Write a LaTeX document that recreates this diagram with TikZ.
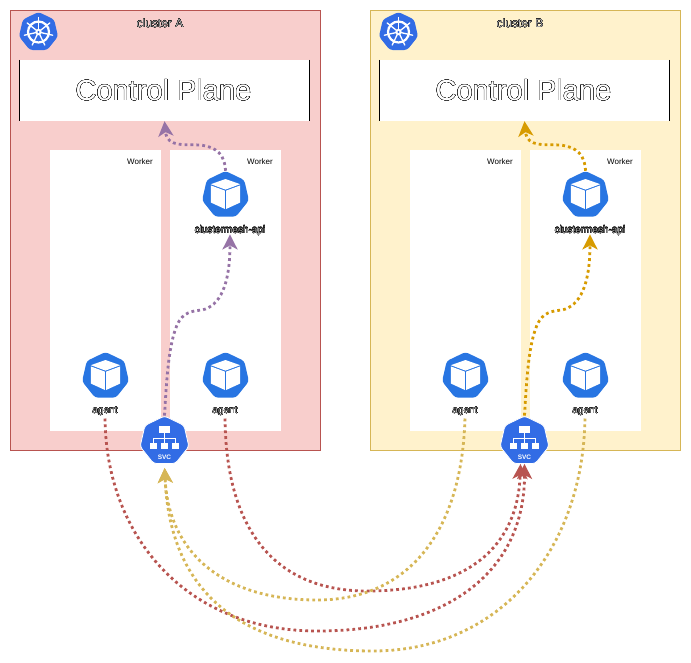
\documentclass[tikz,border=0pt]{standalone}
\usepackage{fontspec}
\setmainfont{Liberation Sans}
\usepackage{contour}
\usetikzlibrary{shapes.geometric,arrows.meta}
\contournumber{16}
\definecolor{kubeblue}{HTML}{326CE5}
\definecolor{podblue}{HTML}{2875E2}
\definecolor{redfill}{HTML}{F8CECC}
\definecolor{redline}{HTML}{B85450}
\definecolor{yellowfill}{HTML}{FFF2CC}
\definecolor{yellowline}{HTML}{D6B656}
\definecolor{purpleline}{HTML}{9673A6}
\definecolor{orangeline}{HTML}{D79B00}
\newcommand{\hollow}[1]{\contourlength{0.22pt}\contour{black}{\textcolor{white}{#1}}}
\newcommand{\faint}[1]{\contourlength{0.07pt}\contour{black}{\textcolor{black!30}{#1}}}
\begin{document}
\begin{tikzpicture}[x=1pt,y=-1pt,
  cluster/.style={draw=#1,line width=0.8pt,minimum width=310pt,minimum height=440pt,inner sep=0pt},
  worker/.style={fill=white,minimum width=111pt,minimum height=281pt,inner sep=0pt},
  plane/.style={fill=white,minimum width=290pt,minimum height=61pt,inner sep=0pt,font=\fontsize{29}{31}\selectfont},
  hept/.style={regular polygon,regular polygon sides=7,inner sep=0pt,rounded corners=3pt},
  pod/.style={hept,fill=podblue,minimum size=48pt},
  logo/.style={hept,fill=kubeblue,minimum size=40pt},
  svc/.style={hept,fill=kubeblue,minimum size=50pt,draw=white,line width=0.8pt},
  small/.style={inner sep=1pt,font=\fontsize{10}{12}\selectfont},
  title/.style={inner sep=1pt,font=\fontsize{12}{14}\selectfont},
  tag/.style={inner sep=1pt,font=\fontsize{8}{10}\selectfont,text=black},
  link/.style={draw=#1,line width=2.8pt,dash pattern=on 2.8pt off 3.1pt,-{Stealth[length=15pt,width=15pt,inset=4pt,fill=#1]}},
  pics/cube/.style={code={
    \fill[white] (0,-16) -- (14.7,-10.8) -- (0,-5.4) -- (-14.7,-10.8) -- cycle;
    \fill[white] (-14.7,-9.6) -- (-0.6,-4.4) -- (-0.6,14) -- (-14.7,7.5) -- cycle;
    \fill[white] (14.7,-9.6) -- (0.6,-4.4) -- (0.6,14) -- (14.7,7.5) -- cycle;
  }},
  pics/wheel/.style={code={
    \draw[white,line width=2.2pt] (0,0) circle (10.5);
    \foreach \a in {90,141.43,...,400} {
      \draw[white,line width=1.3pt,line cap=round] (0,0) -- ({14.5*cos(\a)},{-14.5*sin(\a)});
    }
    \fill[white] (0,0) circle (3.2);
    \fill[kubeblue] (0,0) circle (1.2);
  }},
  pics/tree/.style={code={
    \fill[white] (-5.5,-15) rectangle (5.5,-8);
    \fill[white] (-15,2) rectangle (-7.8,8);
    \fill[white] (-3.7,2) rectangle (3.7,8);
    \fill[white] (7.6,2) rectangle (14.8,8);
    \draw[white,line width=0.8pt] (0,-8) -- (0,2) (-11.4,2) -- (-11.4,-3) -- (11.2,-3) -- (11.2,2);
    \node[text=white,inner sep=0pt,font=\bfseries\fontsize{6.5}{7}\selectfont] at (0,16.5) {SVC};
  }}]
\useasboundingbox (0,0) rectangle (691,662);

\node[cluster=redline,fill=redfill] (clusterA) at (165.3,230.5) {};
\node[title] (titleA) at (160,23) {\faint{cluster A}};
\node[logo] (logoA) at (38.5,32) {};
\pic at (logoA) {wheel};
\node[plane] (planeA) at (164.5,90.5) {};
\node (planeAtext) at (163.5,90.5) [inner sep=0pt,font=\fontsize{29}{31}\selectfont] {\hollow{Control Plane}};
\draw[line width=0.8pt] (planeA.north west) -- (planeA.south west);
\draw[line width=0.8pt] (planeA.north east) -- (planeA.south east);
\node[worker] (workerA1) at (105.5,290.5) {};
\node[worker] (workerA2) at (225.5,290.5) {};
\node[tag] (tagA1) at (140,162) {Worker};
\node[tag] (tagA2) at (260,162) {Worker};

\node[cluster=yellowline,fill=yellowfill] (clusterB) at (525.3,230.5) {};
\node[title] (titleB) at (520,23) {\faint{cluster B}};
\node[logo] (logoB) at (398.5,32) {};
\pic at (logoB) {wheel};
\node[plane] (planeB) at (524.5,90.5) {};
\node (planeBtext) at (523.5,90.5) [inner sep=0pt,font=\fontsize{29}{31}\selectfont] {\hollow{Control Plane}};
\draw[line width=0.8pt] (planeB.north west) -- (planeB.south west);
\draw[line width=0.8pt] (planeB.north east) -- (planeB.south east);
\node[worker] (workerB1) at (465.5,290.5) {};
\node[worker] (workerB2) at (585.5,290.5) {};
\node[tag] (tagB1) at (500,162) {Worker};
\node[tag] (tagB2) at (620,162) {Worker};

% pods
\node[pod] (apiA) at (225.5,195) {};
\pic at (apiA) {cube};
\node[small] (apiAtext) at (230,230.5) {\faint{clustermesh-api}};
\node[pod] (agentA1) at (105.5,376) {};
\pic at (agentA1) {cube};
\node[small] (agentA1text) at (105,411) {\faint{agent}};
\node[pod] (agentA2) at (225.5,376) {};
\pic at (agentA2) {cube};
\node[small] (agentA2text) at (225,411) {\faint{agent}};
\node[pod] (apiB) at (585.5,195) {};
\pic at (apiB) {cube};
\node[small] (apiBtext) at (590,230.5) {\faint{clustermesh-api}};
\node[pod] (agentB1) at (465.5,376) {};
\pic at (agentB1) {cube};
\node[small] (agentB1text) at (465,411) {\faint{agent}};
\node[pod] (agentB2) at (585.5,376) {};
\pic at (agentB2) {cube};
\node[small] (agentB2text) at (585,411) {\faint{agent}};

\node[svc] (svcA) at (164.5,441) {};
\pic at (svcA) {tree};
\node[svc] (svcB) at (524.5,441) {};
\pic at (svcB) {tree};

% inside each cluster
\draw[link=purpleline] (svcA.north) .. controls (167,372) and (169,345) .. (177,325) .. controls (183,312) and (192,311) .. (202,310) .. controls (220,306) and (230,285) .. ([yshift=2pt]apiAtext.south);
\draw[link=purpleline] (apiA.north) .. controls (225,155) and (217,147) .. (200,145) .. controls (185,144) and (167,148) .. (planeA.south);
\draw[link=orangeline] (svcB.north) .. controls (527,372) and (529,345) .. (537,325) .. controls (543,312) and (552,311) .. (562,310) .. controls (580,306) and (590,285) .. ([yshift=2pt]apiBtext.south);
\draw[link=orangeline] (apiB.north) .. controls (585,155) and (577,147) .. (560,145) .. controls (545,144) and (527,148) .. (planeB.south);

% between the clusters
\draw[link=redline,shorten <=2pt] (agentA2text.south) .. controls (226,530) and (275,591) .. (367,591) .. controls (470,591) and (518,545) .. ([xshift=-4pt]svcB.south);
\draw[link=redline,shorten <=2pt] (agentA1text.south) .. controls (106,535) and (185,631) .. (317,631) .. controls (450,631) and (525,570) .. (svcB.south);
\draw[link=yellowline,shorten <=2pt,shorten >=4pt] (agentB1text.south) .. controls (462,530) and (410,600) .. (317,600) .. controls (220,600) and (168,550) .. (svcA.south);
\draw[link=yellowline,shorten <=2pt,shorten >=4pt] (agentB2text.south) .. controls (583,550) and (500,651) .. (373,651) .. controls (250,651) and (170,600) .. (svcA.south);
\end{tikzpicture}
\end{document}
